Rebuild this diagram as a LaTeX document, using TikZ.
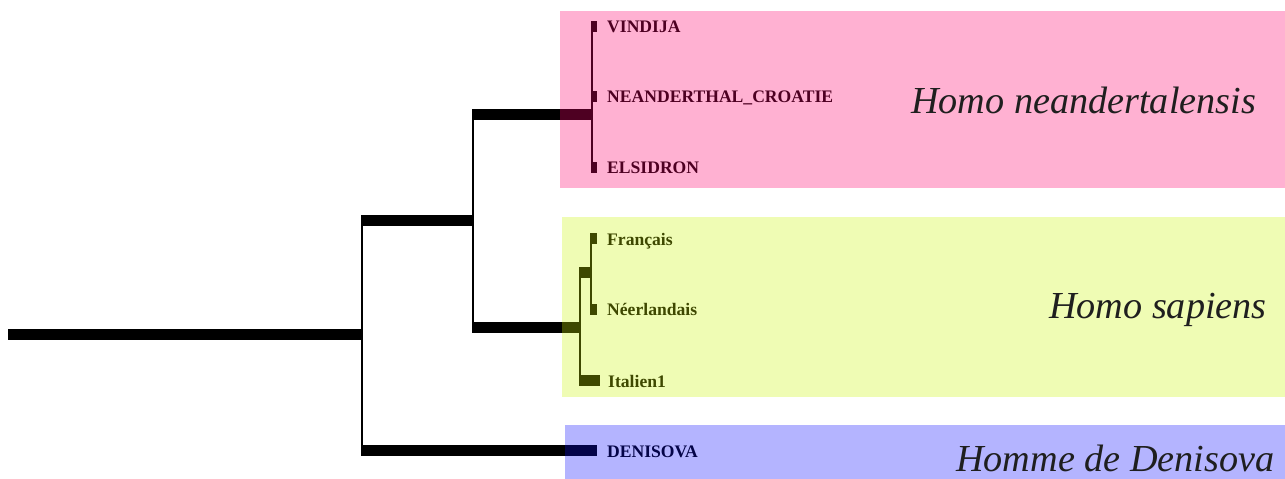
\documentclass[tikz,border=0pt]{standalone}
\usepackage{fontspec}
\setmainfont{Liberation Serif}
\definecolor{neabg}{RGB}{255,177,210}
\definecolor{sapbg}{RGB}{239,252,180}
\definecolor{denbg}{RGB}{180,180,255}
\definecolor{neaink}{RGB}{78,0,34}
\definecolor{sapink}{RGB}{62,72,0}
\definecolor{denink}{RGB}{4,4,72}
\begin{document}
\begin{tikzpicture}[x=1pt,y=-1pt,
  branch/.style={line width=11pt},
  stem/.style={line width=2pt},
  leafstem/.style={line width=1.6pt},
  taxon/.style={anchor=base west, inner sep=0pt, font=\fontsize{17.6}{18}\selectfont\bfseries},
  clade/.style={anchor=base west, inner sep=0pt, font=\fontsize{38.2}{38}\selectfont\itshape, text=black!88},
]
\useasboundingbox (0,0) rectangle (1285,479);

% clade boxes
\fill[neabg] (560,11) rectangle (1285,188);
\fill[sapbg] (562,217) rectangle (1285,397);
\fill[denbg] (565,425) rectangle (1285,479);

% tree nodes and tips
\coordinate (root) at (8,334);
\coordinate (n1)   at (362,334);
\coordinate (n2)   at (473,220);
\coordinate (nN)   at (592,114);
\coordinate (nS)   at (580,327);
\coordinate (nFN)  at (591,272);
\coordinate (tVin) at (597,26);
\coordinate (tCro) at (597,96);
\coordinate (tEls) at (597,167);
\coordinate (tFra) at (597,238);
\coordinate (tNee) at (597,309);
\coordinate (tIta) at (600,380);
\coordinate (tDen) at (597,450);

% one elbow edge: thin vertical at the parent, thick horizontal to the child
\newcommand\elbowedge[3]{%
  \draw[#3,line cap=butt] (#1) -- (#1 |- #2);
  \draw[branch,line cap=butt] ([xshift=-1pt]#1 |- #2) -- (#2);}

\newcommand\drawphylo{%
  \draw[branch,line cap=butt] (root) -- ([xshift=1pt]n1);
  \elbowedge{n1}{n2}{stem}
  \elbowedge{n1}{tDen}{stem}
  \elbowedge{n2}{nN}{stem}
  \elbowedge{n2}{nS}{stem}
  \elbowedge{nN}{tVin}{leafstem}
  \elbowedge{nN}{tCro}{leafstem}
  \elbowedge{nN}{tEls}{leafstem}
  \elbowedge{nS}{nFN}{stem}
  \elbowedge{nS}{tIta}{stem}
  \elbowedge{nFN}{tFra}{leafstem}
  \elbowedge{nFN}{tNee}{leafstem}}

\begin{scope}[color=black]
  \drawphylo
\end{scope}
\begin{scope}[color=neaink]
  \clip (560,11) rectangle (1285,188);
  \drawphylo
\end{scope}
\begin{scope}[color=sapink]
  \clip (562,217) rectangle (1285,397);
  \drawphylo
\end{scope}
\begin{scope}[color=denink]
  \clip (565,425) rectangle (1285,479);
  \drawphylo
\end{scope}

% taxon labels
\node[taxon,text=neaink] (lVin) at (607,32) {VINDIJA};
\node[taxon,text=neaink] (lCro) at (607,102) {NEANDERTHAL\_CROATIE};
\node[taxon,text=neaink] (lEls) at (607,173) {ELSIDRON};
\node[taxon,text=sapink] (lFra) at (607,245) {Français};
\node[taxon,text=sapink] (lNee) at (607,315) {Néerlandais};
\node[taxon,text=sapink] (lIta) at (608,387) {Italien1};
\node[taxon,text=denink] (lDen) at (607,457) {DENISOVA};

% clade names
\node[clade] (cNea) at (911,113) {Homo neandertalensis};
\node[clade] (cSap) at (1049,318) {Homo sapiens};
\node[clade] (cDen) at (956,471) {Homme de Denisova};
\end{tikzpicture}
\end{document}
